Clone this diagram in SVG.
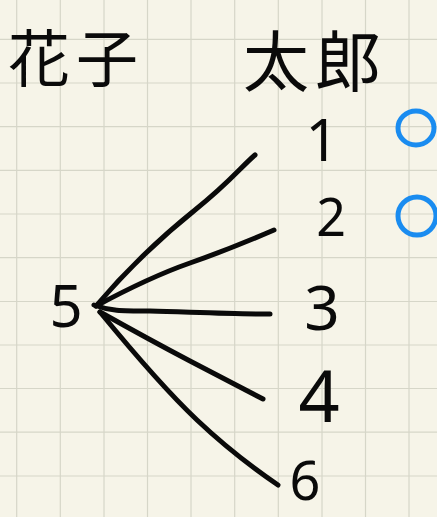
<svg xmlns="http://www.w3.org/2000/svg" width="437" height="517" viewBox="0 0 437 517">
<style>
.grid{stroke:#d6d6c8;stroke-width:1.2;fill:none}
.ink{stroke:#0a0a0a;stroke-width:5;fill:none;stroke-linecap:round;stroke-linejoin:round}
.mark{stroke:#1a8cf0;stroke-width:5;fill:none;stroke-linecap:round}
.cjk{font-family:"Noto Sans CJK JP","Noto Sans CJK SC",sans-serif;fill:#0a0a0a}
.num{font-family:"Noto Sans","DejaVu Sans",sans-serif;fill:#0a0a0a;text-anchor:middle}
</style>
<rect width="437" height="517" fill="#f6f4e8"/>
<g id="grid">
<path class="grid" d="M16.7 0V517M60.3 0V517M104 0V517M147.5 0V517M191 0V517M234.7 0V517M278.3 0V517M322 0V517M365.5 0V517M409 0V517M0 39.3H437M0 83H437M0 126.7H437M0 170.4H437M0 214H437M0 257.7H437M0 301.5H437M0 345H437M0 388.5H437M0 432.2H437M0 476H437"/>
</g>
<g id="connectors">
<path class="ink" d="M96 306C125 272 160 238 195 210S240 168 255 155"/>
<path class="ink" d="M96 306Q150 277 190 263T274 230"/>
<path class="ink" d="M94 305C110 311 120 311 150 311C190 312 230 314 270 314"/>
<path class="ink" d="M100 312Q150 340 190 361T263 399"/>
<path class="ink" d="M100 312Q160 385 197 420T278 485"/>
</g>
<g id="hanako"><text class="cjk" x="8" y="82" font-size="62" letter-spacing="6">花子</text></g>
<g id="taro"><text class="cjk" x="243" y="86" font-size="66" letter-spacing="6">太郎</text></g>
<g id="n5"><text class="num" x="66" y="327" font-size="58">5</text></g>
<g id="n1"><text class="num" x="322" y="161" font-size="58">1</text></g>
<g id="n2"><text class="num" x="331" y="236" font-size="52">2</text></g>
<g id="n3"><text class="num" x="322" y="330" font-size="62">3</text></g>
<g id="n4"><text class="num" x="319" y="422" font-size="72">4</text></g>
<g id="n6"><text class="num" x="305" y="500" font-size="54">6</text></g>
<g id="marks">
<ellipse class="mark" cx="416" cy="128" rx="18" ry="17"/>
<ellipse class="mark" cx="417" cy="216" rx="19" ry="19"/>
</g>
</svg>
